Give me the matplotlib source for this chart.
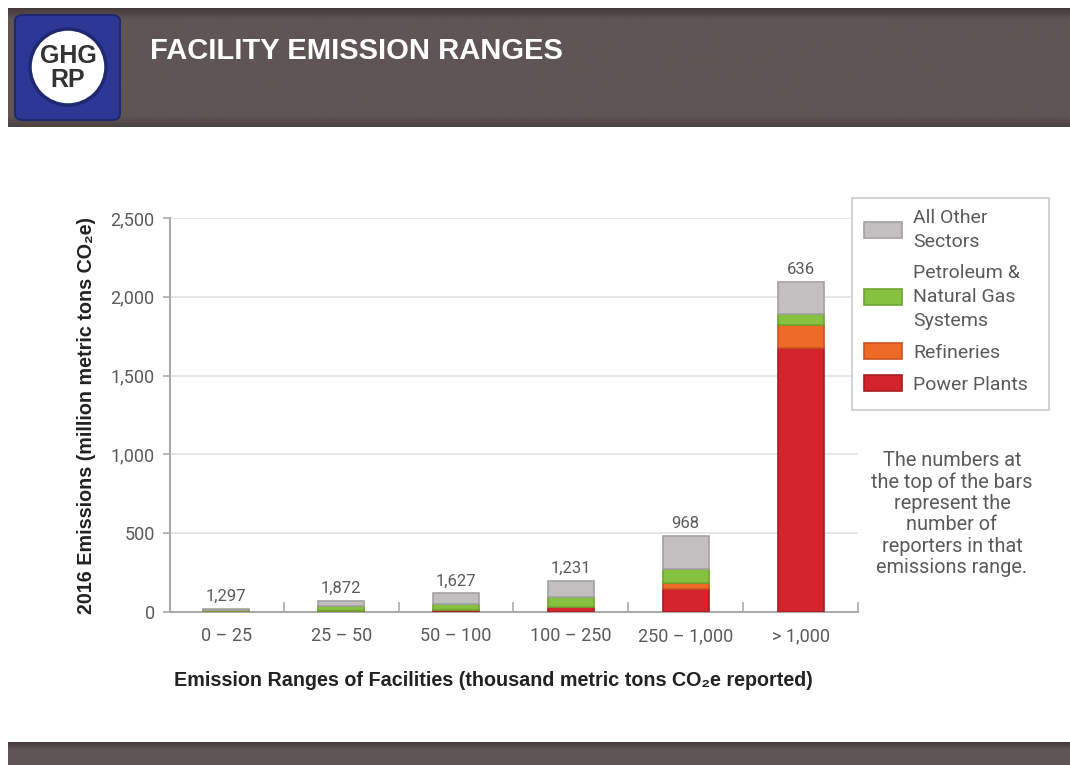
import numpy as np
import matplotlib
matplotlib.use("Agg")
import matplotlib.pyplot as plt
from matplotlib.patches import FancyBboxPatch, Ellipse, Patch, Rectangle

W, H = 1070, 765

# data
categories = ["0 – 25", "25 – 50", "50 – 100", "100 – 250", "250 – 1,000", "> 1,000"]
power_plants = [3, 7, 10, 30, 145, 1673]
refineries = [1, 2, 3, 4, 36, 146]
petroleum_gas = [7, 29, 36, 61, 95, 72]
all_other = [9, 32, 70, 102, 205, 205]
reporters = [1297, 1872, 1627, 1231, 968, 636]

series_names = ["Power Plants", "Refineries", "Petroleum &\nNatural Gas\nSystems", "All Other\nSectors"]
face_colors = ["#d3232b", "#ee6b27", "#86c240", "#c1bfbf"]
edge_colors = ["#a81d24", "#c95420", "#6fa432", "#a3a1a1"]

plt.rcParams["font.family"] = ["Roboto", "DejaVu Sans"]
text_grey = "#5a5a5a"


def fx(px):
    return px / W


def fy(py):
    return 1 - py / H


fig = plt.figure(figsize=(W / 100, H / 100), dpi=100)
fig.patch.set_facecolor("white")

# header band
hdr = fig.add_axes([fx(8), fy(127), 1 - fx(8), (127 - 8) / H])
grad = np.concatenate([np.linspace(0.2, 1.0, 10), np.ones(80), np.linspace(1.0, 0.4, 10)])
dark = np.array([0x3d, 0x34, 0x33]) / 255
light = np.array([0x5f, 0x55, 0x54]) / 255
img = dark + grad[:, None] * (light - dark)
hdr.imshow(img[:, None, :], aspect="auto", extent=[0, 1, 0, 1])
hdr.set_axis_off()

# footer band
ftr = fig.add_axes([fx(8), 0, 1 - fx(8), (765 - 742) / H])
grad2 = np.concatenate([np.linspace(0.2, 1.0, 8), np.ones(15)])
img2 = dark + grad2[:, None] * (light - dark)
ftr.imshow(img2[:, None, :], aspect="auto", extent=[0, 1, 0, 1])
ftr.set_axis_off()

# logo
fig.patches.append(FancyBboxPatch((fx(15), fy(120)), (120 - 15) / W, (120 - 15) / H,
                                  boxstyle="round,pad=0,rounding_size=0.008",
                                  transform=fig.transFigure, facecolor="#2d3896",
                                  edgecolor="#20286e", linewidth=1.5, zorder=5))
fig.patches.append(Ellipse((fx(68), fy(67)), 76 / W, 76 / H, transform=fig.transFigure,
                           facecolor="white", edgecolor="#1f2870", linewidth=2.5, zorder=6))
fig.text(fx(68), fy(68), "GHG\nRP", ha="center", va="center", fontsize=18,
         fontweight="bold", color="#333333", linespacing=0.95, zorder=7,
         family=["Liberation Sans", "DejaVu Sans"])
fig.text(fx(150), fy(51), "FACILITY EMISSION RANGES", ha="left", va="center",
         fontsize=21, fontweight="bold", color="white",
         family=["Liberation Sans", "DejaVu Sans"])

# main chart
ax = fig.add_axes([fx(170), fy(612), (858 - 170) / W, (612 - 218) / H])
x = np.arange(len(categories))
bottom = np.zeros(len(categories))
stack = [power_plants, refineries, petroleum_gas, all_other]
handles = []
for vals, name, fc, ec in zip(stack, series_names, face_colors, edge_colors):
    ax.bar(x, vals, width=0.4, bottom=bottom, color=fc, edgecolor=ec,
           linewidth=1.2, zorder=3)
    bottom += np.array(vals)
    handles.append(Patch(facecolor=fc, edgecolor=ec, linewidth=1.2, label=name))

for xi, top, n in zip(x, bottom, reporters):
    ax.text(xi, top + 30, f"{n:,}", ha="center", va="bottom", fontsize=12,
            color=text_grey)

ax.set_xlim(-0.49, 5.5)
ax.set_ylim(0, 2500)
ax.set_yticks(np.arange(0, 2501, 500))
ax.set_yticklabels([f"{v:,}" for v in range(0, 2501, 500)])
ax.set_xticks(x)
ax.set_xticklabels(categories)
ax.set_xticks(np.arange(0.5, 5.6, 1), minor=True)
ax.tick_params(axis="x", which="major", length=0, pad=11, labelsize=13, labelcolor=text_grey)
ax.tick_params(axis="x", which="minor", direction="in", length=7, color="#aaaaaa", width=1.2)
ax.tick_params(axis="y", length=5, color="#aaaaaa", width=1.2, pad=6, labelsize=13,
               labelcolor=text_grey)
ax.grid(axis="y", color="#e2e2e2", linewidth=1.2, zorder=0)
for side in ["top", "right"]:
    ax.spines[side].set_visible(False)
for side in ["left", "bottom"]:
    ax.spines[side].set_color("#aaaaaa")
    ax.spines[side].set_linewidth(1.5)

fig.text(fx(87), fy(415), "2016 Emissions (million metric tons CO₂e)", rotation=90,
         ha="center", va="center", fontsize=14.2, fontweight="bold", color="#222222",
         family=["Liberation Sans", "DejaVu Sans"])
fig.text(fx(493), fy(680), "Emission Ranges of Facilities (thousand metric tons CO₂e reported)",
         ha="center", va="center", fontsize=14.2, fontweight="bold", color="#222222",
         family=["Liberation Sans", "DejaVu Sans"])

# legend (frame drawn separately so its size matches)
fig.patches.append(Rectangle((fx(852), fy(410)), (1049 - 852) / W, (410 - 198) / H,
                             transform=fig.transFigure, facecolor="white",
                             edgecolor="#cccccc", linewidth=1.2, zorder=4))
leg = fig.legend(handles[::-1], [h.get_label() for h in handles[::-1]],
                 loc="upper left", bbox_to_anchor=(fx(856), fy(201)),
                 frameon=False, fontsize=14,
                 handlelength=1.95, handleheight=0.9, handletextpad=0.6,
                 labelspacing=0.68, borderpad=0.4, borderaxespad=0)
leg.set_zorder(5)
for t in leg.get_texts():
    t.set_color(text_grey)
    t.set_linespacing(1.42)

fig.text(fx(952), fy(514), "The numbers at\nthe top of the bars\nrepresent the\nnumber of\n"
         "reporters in that\nemissions range.", ha="center", va="center", fontsize=14.3,
         color=text_grey, linespacing=1.15)

fig.savefig("out.png", dpi=100)
